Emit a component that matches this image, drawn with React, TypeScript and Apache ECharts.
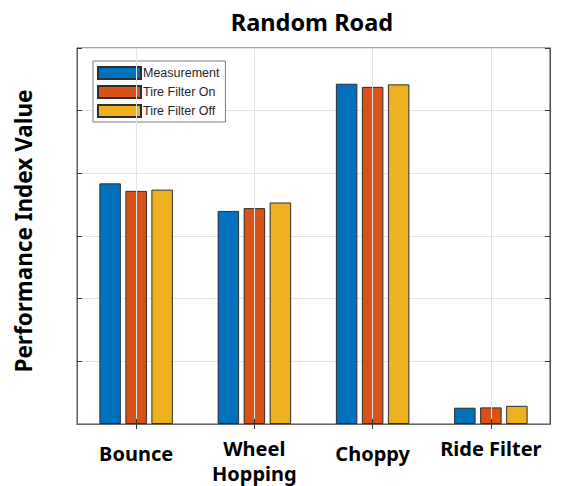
import React, { useEffect, useRef } from 'react';
import * as echarts from 'echarts';

const categories = ['Bounce', 'Wheel Hopping', 'Choppy', 'Ride Filter'];
const categoryLabels = ['Bounce', 'Wheel\nHopping', 'Choppy', 'Ride Filter'];
const seriesNames = ['Measurement', 'Tire Filter On', 'Tire Filter Off'];
const measurement = [3.84, 3.4, 5.43, 0.26];
const tireFilterOn = [3.72, 3.445, 5.38, 0.265];
const tireFilterOff = [3.74, 3.535, 5.42, 0.29];
const yMin = 0;
const yMax = 6;
const yStep = 1;

// per-label top padding (layout only)
const labelTopPad = [10, 0, 10, 0];

const colors = ['#0072BD', '#D95319', '#EDB120'];
const FONT = 'Noto Sans';

export default function App() {
  const ref = useRef<HTMLDivElement>(null);
  useEffect(() => {
    if (!ref.current) return;
    const chart = echarts.init(ref.current, undefined, { renderer: 'svg' });
    const values = [measurement, tireFilterOn, tireFilterOff];
    const rich: any = {};
    labelTopPad.forEach((p, i) => {
      rich['c' + i] = {
        fontFamily: FONT,
        fontWeight: 'bold',
        fontSize: 20,
        lineHeight: 25,
        color: '#000',
        padding: [p, 0, 0, 0],
      };
    });
    const option: any = {
      animation: false,
      backgroundColor: '#fff',
      color: colors,
      title: {
        text: 'Random Road',
        left: 307,
        top: 5,
        textAlign: 'center',
        textStyle: { fontFamily: FONT, fontWeight: 'bold', fontSize: 23.5, color: '#000' },
      },
      legend: {
        data: seriesNames,
        orient: 'vertical',
        left: 93,
        top: 61,
        padding: [5, 6, 4, 4],
        itemWidth: 43,
        itemHeight: 12,
        itemGap: 5,
        selectedMode: false,
        borderColor: '#7a7a7a',
        borderWidth: 1,
        backgroundColor: '#fff',
        icon: 'rect',
        textStyle: { fontFamily: 'Liberation Sans', fontSize: 12.5, color: '#262626', padding: [0, 0, 0, -3] },
      },
      grid: {
        left: 77,
        top: 48,
        width: 473,
        height: 376,
        show: true,
        borderColor: '#4d4d4d',
        borderWidth: 1,
      },
      xAxis: [
        {
          type: 'category',
          data: categories,
          position: 'bottom',
          z: 5,
          axisLine: { show: true, lineStyle: { color: '#333', width: 1 } },
          axisTick: { show: true, alignWithLabel: true, inside: true, length: 5, lineStyle: { color: '#333' } },
          axisLabel: {
            margin: 12,
            interval: 0,
            formatter: (v: string) => {
              const i = categories.indexOf(v);
              return categoryLabels[i]
                .split('\n')
                .map((s) => `{c${i}|${s}}`)
                .join('\n');
            },
            rich,
          },
          splitLine: { show: false },
        },
        {
          type: 'category',
          data: categories,
          position: 'top',
          z: 5,
          axisLine: { show: true, lineStyle: { color: '#666' } },
          axisTick: { show: true, alignWithLabel: true, inside: true, length: 5, lineStyle: { color: '#333' } },
          axisLabel: { show: false },
          splitLine: { show: false },
        },
      ],
      yAxis: [
        {
          type: 'value',
          min: yMin,
          max: yMax,
          interval: yStep,
          position: 'left',
          name: 'Performance Index Value',
          nameLocation: 'middle',
          nameGap: 42,
          nameTextStyle: {
            fontFamily: FONT,
            fontWeight: 'bold',
            fontSize: 22.5,
            color: '#000',
            padding: [0, 0, 0, 10],
          },
          axisLine: { show: true, lineStyle: { color: '#666' } },
          axisTick: { show: true, inside: true, length: 5, lineStyle: { color: '#333' } },
          axisLabel: { show: false },
          splitLine: { show: true, lineStyle: { color: '#e3e3e3', width: 1 } },
        },
        {
          type: 'value',
          min: yMin,
          max: yMax,
          interval: yStep,
          position: 'right',
          axisLine: { show: true, lineStyle: { color: '#4d4d4d' } },
          axisTick: { show: true, inside: true, length: 5, lineStyle: { color: '#333' } },
          axisLabel: { show: false },
          splitLine: { show: false },
        },
      ],
      series: [
        {
          type: 'line',
          name: 'grid',
          data: [],
          z: 1,
          silent: true,
          markLine: {
            silent: true,
            symbol: 'none',
            label: { show: false },
            lineStyle: { color: '#e3e3e3', type: 'solid', width: 1 },
            data: categories.map((c) => ({ xAxis: c })),
          },
        },
        ...seriesNames.map((name, k) => ({
          type: 'bar',
          name,
          data: values[k],
          barWidth: 21.5,
          barGap: '21%',
          z: 2,
          itemStyle: { color: colors[k], borderColor: '#2e2e2e', borderWidth: 1 },
        })),
      ],
    };
    chart.setOption(option);
    return () => chart.dispose();
  }, []);
  return (
    <div
      ref={ref}
      style={{ position: 'fixed', left: 0, top: 0, width: 563, height: 486 }}
    />
  );
}
